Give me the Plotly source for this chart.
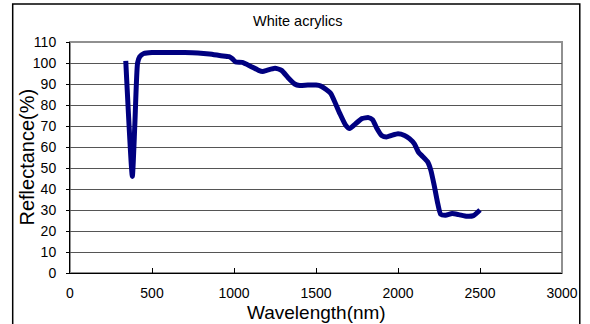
import plotly.graph_objects as go

wavelength = [340, 380, 395, 412, 425, 450, 500, 600, 700, 780, 850, 920, 970, 990,
              1010, 1050, 1100, 1150, 1175, 1200, 1250, 1290, 1330, 1370, 1400, 1450,
              1500, 1530, 1560, 1590, 1620, 1645, 1680, 1705, 1740, 1780, 1820, 1845,
              1870, 1900, 1930, 1960, 2000, 2040, 2070, 2100, 2125, 2150, 2180, 2200,
              2220, 2240, 2260, 2290, 2330, 2370, 2420, 2460, 2500]
reflectance = [101, 46, 70, 100, 103, 104.5, 105, 105, 105, 104.8, 104.3, 103.5, 103, 102,
               100.5, 100.3, 98.5, 96.5, 96, 96.5, 97.5, 96.5, 93, 90, 89.3, 89.5,
               89.5, 89, 87.5, 85.5, 80.5, 76, 70.5, 68.8, 71, 73.5, 74, 73,
               69, 65.5, 64.8, 65.5, 66.3, 65.5, 64, 61.5, 57.5, 55.5, 53, 49,
               42, 34, 28, 27.5, 28.3, 27.8, 27, 27.3, 30]

x_ticks = [0, 500, 1000, 1500, 2000, 2500, 3000]
y_ticks = list(range(0, 111, 10))

L, R, T, B = 70, 22, 42, 51
W, H = 590, 324
pw, ph = W - L - R, H - T - B

fig = go.Figure()
fig.add_trace(go.Scatter(x=wavelength, y=reflectance, mode="lines",
                         line=dict(color="#000080", width=5, shape="spline",
                                   smoothing=0.5),
                         showlegend=False))

font = "Liberation Sans, Arial, sans-serif"
fig.update_layout(
    width=W, height=H,
    margin=dict(l=L, r=R, t=T, b=B),
    paper_bgcolor="white", plot_bgcolor="white",
    font=dict(family=font, color="black", size=14),
    xaxis=dict(range=[0, 3000], tickvals=x_ticks, ticks="inside", ticklen=5,
               tickcolor="black", showline=True, linecolor="black", linewidth=1,
               showgrid=False, zeroline=False, ticklabelstandoff=7,
               tickfont=dict(size=14)),
    yaxis=dict(range=[0, 110], tickvals=y_ticks, ticks="outside", ticklen=3,
               tickcolor="black", showline=True, linecolor="black", linewidth=1,
               showgrid=True, gridcolor="#555555", gridwidth=1, zeroline=False,
               ticklabelstandoff=7, tickfont=dict(size=14)),
    shapes=[
        dict(type="rect", xref="paper", yref="paper", x0=0, x1=1, y0=0, y1=1,
             line=dict(color="#909090", width=2), layer="below"),
        dict(type="rect", xref="paper", yref="paper",
             x0=(12 - L) / pw, x1=(586 - L) / pw,
             y0=-0.5, y1=(H - B - 4) / ph,
             line=dict(color="black", width=1.5), layer="below"),
    ],
    annotations=[
        dict(text="White acrylics", xref="paper", yref="paper",
             x=(300 - L) / pw, y=(H - B - 21.5) / ph, xanchor="center", yanchor="middle",
             showarrow=False, font=dict(size=14.5)),
        dict(text="Wavelength(nm)", xref="paper", yref="paper",
             x=(319 - L) / pw, y=(H - B - 312) / ph, xanchor="center", yanchor="middle",
             showarrow=False, font=dict(size=19)),
        dict(text="Reflectance(%)", xref="paper", yref="paper", textangle=-90,
             x=(26 - L) / pw, y=(H - B - 157) / ph, xanchor="center", yanchor="middle",
             showarrow=False, font=dict(size=20)),
    ],
)
fig.write_html("out.html")
